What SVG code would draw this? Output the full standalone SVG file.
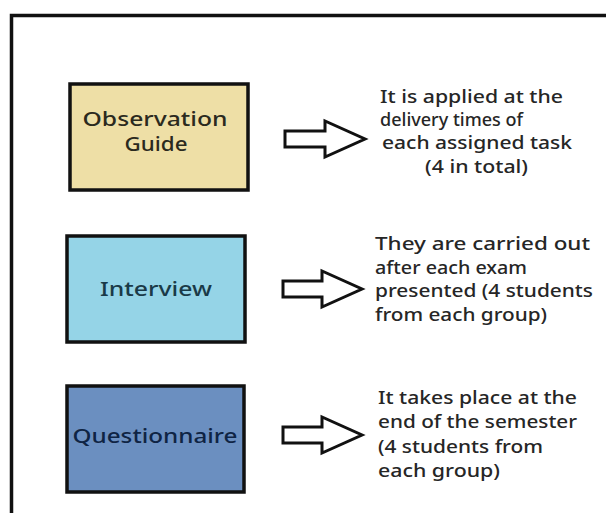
<svg xmlns="http://www.w3.org/2000/svg" width="606" height="513" viewBox="0 0 606 513">
<style>
.box{stroke:#111;stroke-width:3.5}
.lbl{font-family:"Noto Sans","Liberation Sans",sans-serif;font-size:19px;font-weight:500;text-anchor:middle}
.desc{font-family:"Noto Sans","Liberation Sans",sans-serif;font-size:18px;font-weight:500;fill:#262626}
.arr{fill:#fff;stroke:#111;stroke-width:3;stroke-linejoin:miter}
</style>
<rect width="606" height="513" fill="#fff"/>
<path d="M11.5,513 V15.5 H606" fill="none" stroke="#111" stroke-width="3.5"/>
<g id="observation">
<rect class="box" x="70" y="84" width="178" height="106" fill="#EEDFA6"/>
<text class="lbl" fill="#2b2a1e" x="155" y="126" textLength="145" lengthAdjust="spacingAndGlyphs">Observation</text>
<text class="lbl" fill="#2b2a1e" x="156" y="151" textLength="63" lengthAdjust="spacingAndGlyphs">Guide</text>
</g>
<g id="interview">
<rect class="box" x="67" y="236" width="178" height="106" fill="#95D4E7"/>
<text class="lbl" fill="#1a3a48" x="156" y="296" textLength="112" lengthAdjust="spacingAndGlyphs">Interview</text>
</g>
<g id="questionnaire">
<rect class="box" x="67" y="386" width="177" height="106" fill="#6B8FC0"/>
<text class="lbl" fill="#0f2444" x="155" y="443" textLength="165" lengthAdjust="spacingAndGlyphs">Questionnaire</text>
</g>
<g id="connectors">
<polygon class="arr" points="285,131 325,131 325,121 365,139 325,157 325,147 285,147"/>
<polygon class="arr" points="283,281 322,281 322,271 362,289 322,307 322,297 283,297"/>
<polygon class="arr" points="283,427 322,427 322,417 362,435 322,453 322,443 283,443"/>
</g>
<g id="desc1">
<text class="desc" x="380" y="103" textLength="183" lengthAdjust="spacingAndGlyphs">It is applied at the</text>
<text class="desc" x="380" y="126" textLength="143" lengthAdjust="spacingAndGlyphs">delivery times of</text>
<text class="desc" x="382" y="149" textLength="190" lengthAdjust="spacingAndGlyphs">each assigned task</text>
<text class="desc" x="425" y="173" textLength="103" lengthAdjust="spacingAndGlyphs">(4 in total)</text>
</g>
<g id="desc2">
<text class="desc" x="375" y="250" textLength="215" lengthAdjust="spacingAndGlyphs">They are carried out</text>
<text class="desc" x="375" y="274" textLength="152" lengthAdjust="spacingAndGlyphs">after each exam</text>
<text class="desc" x="375" y="297" textLength="218" lengthAdjust="spacingAndGlyphs">presented (4 students</text>
<text class="desc" x="375" y="321" textLength="172" lengthAdjust="spacingAndGlyphs">from each group)</text>
</g>
<g id="desc3">
<text class="desc" x="378" y="404" textLength="199" lengthAdjust="spacingAndGlyphs">It takes place at the</text>
<text class="desc" x="378" y="428" textLength="199" lengthAdjust="spacingAndGlyphs">end of the semester</text>
<text class="desc" x="378" y="453" textLength="165" lengthAdjust="spacingAndGlyphs">(4 students from</text>
<text class="desc" x="378" y="477" textLength="122" lengthAdjust="spacingAndGlyphs">each group)</text>
</g>
</svg>
